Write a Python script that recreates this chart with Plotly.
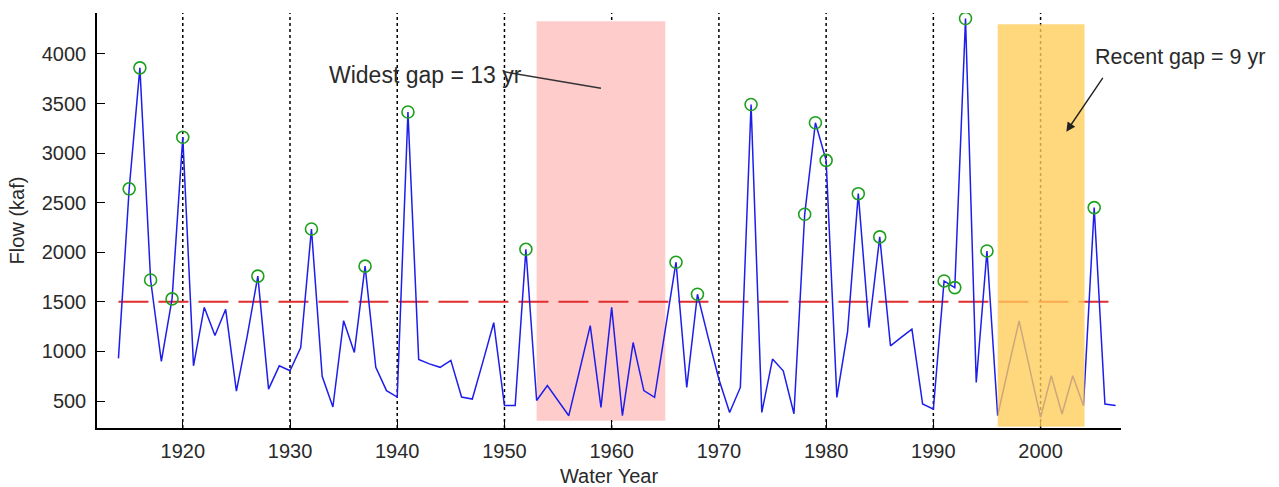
import plotly.graph_objects as go

# ---------------- data ----------------
years = list(range(1914, 2008))
flow = [
    930, 2640, 3860, 1720, 900, 1530, 3160, 855, 1445, 1160,      # 1914-1923
    1425, 600, 1150, 1760, 620, 855, 805, 1040, 2235, 750,        # 1924-1933
    440, 1310, 990, 1860, 840, 605, 540, 3415, 920, 875,          # 1934-1943
    840, 910, 540, 520, 900, 1290, 455, 455, 2030, 505,           # 1944-1953
    655, 500, 352, 805, 1260, 436, 1445, 352, 1090, 605,          # 1954-1963
    537, 1220, 1900, 637, 1577, 1140, 720, 385, 637, 3490,        # 1964-1973
    385, 923, 805, 372, 2383, 3306, 2927, 537, 1200, 2591,        # 1974-1983
    1241, 2155, 1057, 1141, 1225, 470, 419, 1711, 1644, 4357,     # 1984-1993
    687, 2013, 352, 838, 1309, 820, 335, 755, 369, 755,           # 1994-2003
    453, 2450, 470, 455,                                          # 2004-2007
]
threshold = 1500
decades = [1920, 1930, 1940, 1950, 1960, 1970, 1980, 1990, 2000]
x_ticks = decades
y_ticks = [500, 1000, 1500, 2000, 2500, 3000, 3500, 4000]

widest_gap = (1953, 1965, 302, 4330)     # x0, x1, y0, y1
recent_gap = (1996, 2004.1, 240, 4300)
widest_label = "Widest gap = 13 yr"
recent_label = "Recent gap = 9 yr"
widest_line = (1950.0, 3820, 1959.0, 3655)
recent_arrow_head = (2002.4, 3216)
recent_arrow_tail = (2005.9, 3775)

exc_years = [y for y, v in zip(years, flow) if v > threshold]
exc_flow = [v for v in flow if v > threshold]

FONT = "Liberation Sans, Arial, sans-serif"
TXT = "#2a2a2a"

fig = go.Figure()

fig.add_trace(go.Scatter(
    x=[years[0], years[-1]], y=[threshold, threshold], mode="lines",
    line=dict(color="rgb(225,45,45)", width=2, dash="30px,10px"),
    hoverinfo="skip", showlegend=False))

fig.add_trace(go.Scatter(
    x=years, y=flow, mode="lines",
    line=dict(color="rgb(30,30,235)", width=1.5),
    showlegend=False))

fig.add_trace(go.Scatter(
    x=exc_years, y=exc_flow, mode="markers",
    marker=dict(symbol="circle-open", size=12, color="rgb(30,160,30)",
                line=dict(width=1.6)),
    showlegend=False))

shapes = []
for d in decades:
    shapes.append(dict(type="line", xref="x", yref="paper", x0=d, x1=d, y0=0, y1=1,
                       line=dict(color="black", width=1.5, dash="dot"), layer="below"))
shapes.append(dict(type="rect", xref="x", yref="y",
                   x0=widest_gap[0], x1=widest_gap[1], y0=widest_gap[2], y1=widest_gap[3],
                   fillcolor="rgb(255,204,204)", line=dict(width=0), layer="below"))
shapes.append(dict(type="rect", xref="x", yref="y",
                   x0=recent_gap[0], x1=recent_gap[1], y0=recent_gap[2], y1=recent_gap[3],
                   fillcolor="rgb(255,205,90)", opacity=0.78, line=dict(width=0), layer="above"))
shapes.append(dict(type="line", xref="x", yref="y",
                   x0=widest_line[0], y0=widest_line[1], x1=widest_line[2], y1=widest_line[3],
                   line=dict(color="#333333", width=1.5), layer="above"))

annotations = [
    dict(x=1942.6, y=3790, xref="x", yref="y", text=widest_label, showarrow=False,
         xanchor="center", yanchor="middle",
         font=dict(family=FONT, size=23, color=TXT)),
    dict(xref="paper", yref="paper", x=1.0576, y=0.894, text=recent_label, showarrow=False,
         xanchor="center", yanchor="middle",
         font=dict(family=FONT, size=21.5, color=TXT)),
    dict(x=recent_arrow_head[0], y=recent_arrow_head[1], xref="x", yref="y",
         ax=recent_arrow_tail[0], ay=recent_arrow_tail[1], axref="x", ayref="y",
         text="", showarrow=True, arrowhead=2, arrowsize=1.3, arrowwidth=1.4,
         arrowcolor="#222222", standoff=0, startstandoff=0),
]

fig.update_layout(
    width=1279, height=487,
    margin=dict(l=97, r=158, t=13, b=59),
    paper_bgcolor="white", plot_bgcolor="white",
    shapes=shapes, annotations=annotations,
    font=dict(family=FONT, size=20, color=TXT),
    xaxis=dict(range=[1912, 2007.5], tickvals=x_ticks, ticks="inside", ticklen=8,
               tickwidth=1.3, tickcolor="black", showline=True, linecolor="black",
               linewidth=1.5, showgrid=False, zeroline=False, automargin=False,
               ticklabelstandoff=4,
               title=dict(text="Water Year", font=dict(size=20), standoff=10),
               tickfont=dict(size=20)),
    yaxis=dict(range=[228, 4413], tickvals=y_ticks, ticks="inside", ticklen=8,
               tickwidth=1.3, tickcolor="black", showline=True, linecolor="black",
               linewidth=1.5, showgrid=False, zeroline=False, automargin=False,
               ticklabelstandoff=5,
               title=dict(text="Flow (kaf)", font=dict(size=20), standoff=12),
               tickfont=dict(size=20)),
)

fig.write_html("out.html")
